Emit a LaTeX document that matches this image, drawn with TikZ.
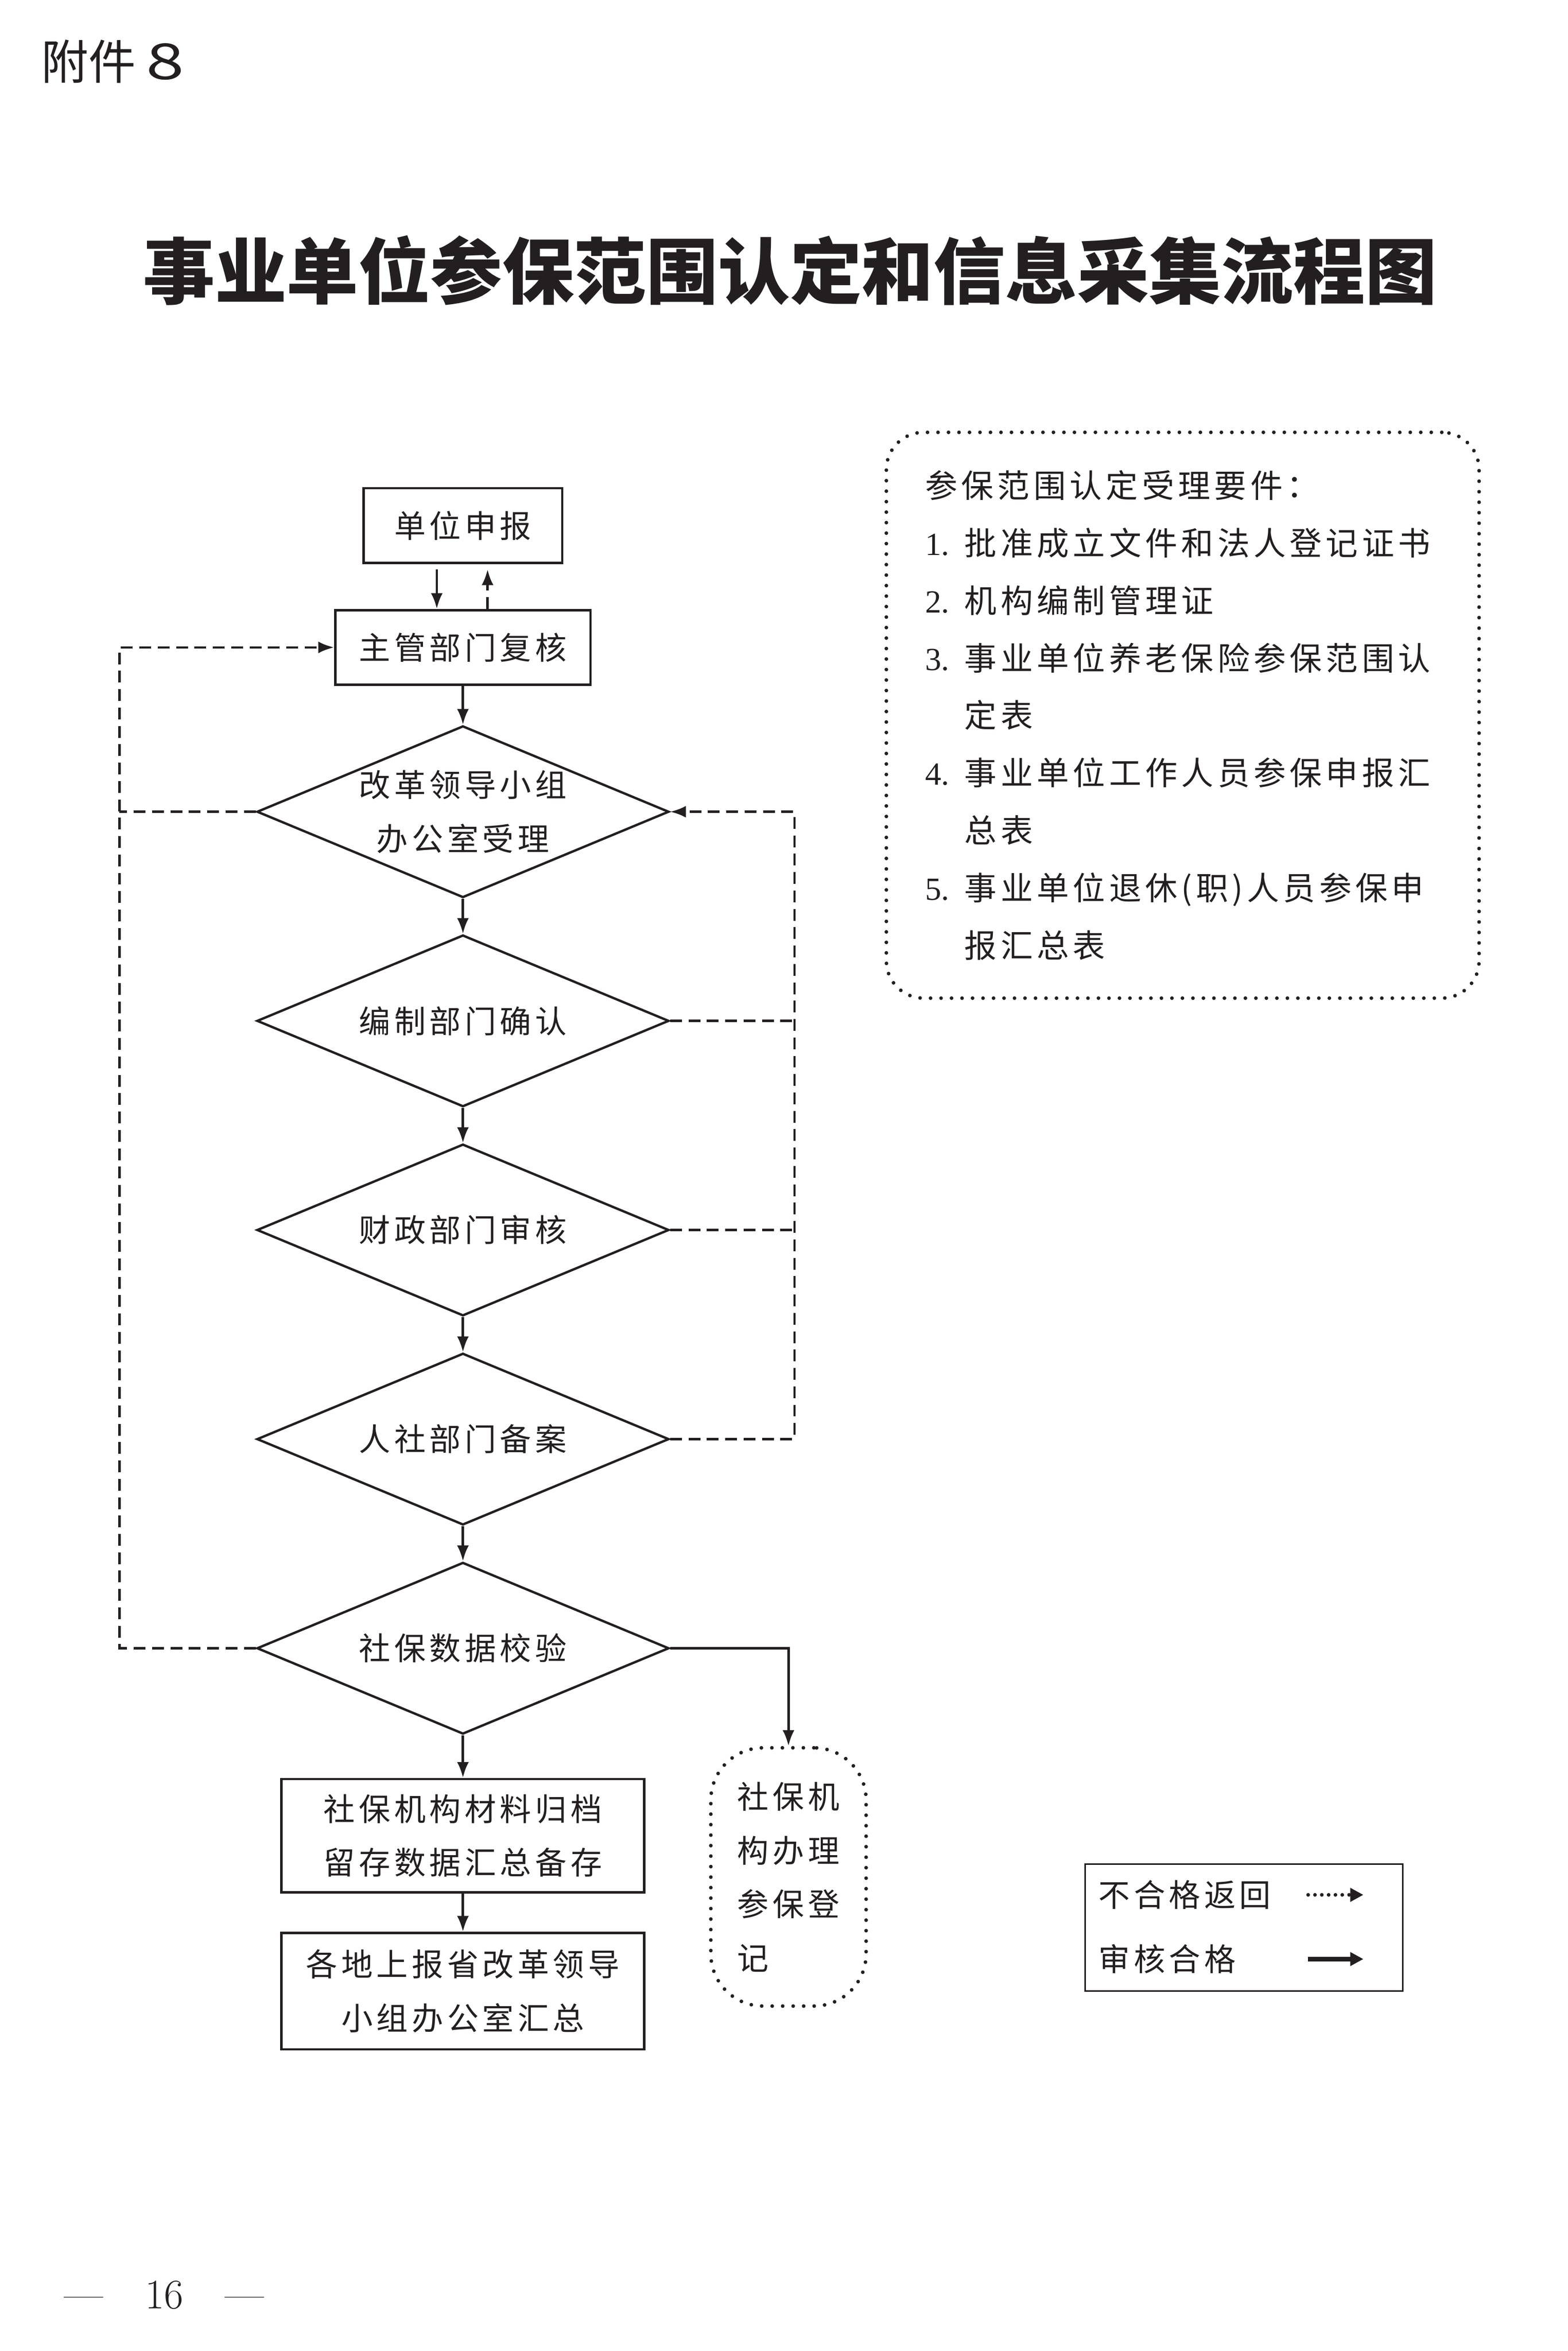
\documentclass[tikz,border=0pt]{standalone}
\usepackage{fontspec}
\usepackage{tikz}
\newfontfamily\cjk[LetterSpace=12]{Noto Sans CJK SC}
\newfontfamily\cjkhead{Noto Sans CJK SC}
\newfontfamily\numfont{Liberation Serif}
\definecolor{ink}{RGB}{35,31,32}
\usetikzlibrary{positioning,chains,shapes.geometric,arrows.meta}
\newcommand{\itm}[1]{\makebox[15pt][l]{\numfont #1.}}

\begin{document}
\begin{tikzpicture}[x=0.02cm,y=-0.02cm,
    ink,line width=0.9pt,
    every node/.style={font=\cjk\fontsize{12}{20.5}\selectfont,text=ink},
    boxnode/.style={draw,rectangle,inner sep=0pt,align=center},
    ifnode/.style={draw,diamond,shape aspect=2.4,inner sep=-2pt,minimum width=5.52cm,minimum height=2.3cm,align=center},
    dotbox/.style={draw,rectangle,line width=1.4pt,line cap=round,dash pattern=on 0pt off 4pt},
    ok/.style={-{Latex[length=6pt,width=4.5pt]}},
    back/.style={-{Latex[length=6pt,width=4.5pt]},dash pattern=on 4.5pt off 2.5pt}
    ]
    \useasboundingbox (0,0) rectangle (1050,1574.5);

    % heading
    \node[anchor=west,inner sep=0pt,font=\cjkhead\fontsize{18}{20}\selectfont] (fj) at (27,41) {附件\hspace{4pt}\scalebox{1.45}[1.05]{8}};
    \node[font=\cjkhead\bfseries\fontsize{27.4}{30}\selectfont] (title) at (529,181) {事业单位参保范围认定和信息采集流程图};

    % the main steps
    \begin{scope}[start chain=going below,node distance=0.47cm]
    \node[boxnode,on chain,minimum width=2.66cm,minimum height=1cm] (sb) at (310,352) {单位申报};
    \node[boxnode,node distance=0.6cm,on chain,minimum width=3.42cm,minimum height=1cm] (zg) {主管部门复核};
    \node[ifnode,node distance=0.52cm,on chain] (d1) {改革领导小组\\办公室受理};
    \node[ifnode,on chain] (d2) {编制部门确认};
    \node[ifnode,on chain] (d3) {财政部门审核};
    \node[ifnode,on chain] (d4) {人社部门备案};
    \node[ifnode,on chain] (d5) {社保数据校验};
    \node[boxnode,node distance=0.57cm,on chain,minimum width=4.86cm,minimum height=1.52cm] (gd) {社保机构材料归档\\留存数据汇总备存};
    \node[boxnode,node distance=0.51cm,on chain,minimum width=4.86cm,minimum height=1.56cm] (hz) {各地上报省改革领导\\小组办公室汇总};
    \end{scope}

    % side boxes
    \node[dotbox,rounded corners=0.7cm,minimum width=2.08cm,minimum height=3.46cm,align=left] (dj) at (528,1257) {社保机\\构办理\\参保登\\记};
    \node[dotbox,rounded corners=0.5cm,minimum width=7.94cm,minimum height=7.58cm,text width=6.9cm,align=left,
          font=\cjk\fontsize{12.3}{21.9}\selectfont] (req) at (792,479)
         {参保范围认定受理要件：\\
          \itm{1}批准成立文件和法人登记证书\\
          \itm{2}机构编制管理证\\
          \itm{3}事业单位养老保险参保范围认\\
          \hspace*{15pt}定表\\
          \itm{4}事业单位工作人员参保申报汇\\
          \hspace*{15pt}总表\\
          \itm{5}事业单位退休(职)人员参保申\\
          \hspace*{15pt}报汇总表};

    % the edges
    \draw[ok,shorten <=2pt] ([xshift=-0.35cm]sb.south) -- ([xshift=-0.35cm]sb.south |- zg.north);
    \draw[back,shorten >=2pt] ([xshift=0.33cm]sb.south |- zg.north) -- ([xshift=0.33cm]sb.south);
    \foreach \a/\b in {zg/d1,d1/d2,d2/d3,d3/d4,d4/d5,d5/gd,gd/hz}
        \draw[ok] (\a.south) -- (\b.north);
    \draw[ok] (d5.east) -| (dj.north);

    % the way back
    \coordinate (lft) at (80,0);
    \coordinate (rgt) at (532,0);
    \draw[back] (d5.west) -- (d5.west -| lft) -- (zg.west -| lft) -- (zg.west);
    \draw[back,-] (d1.west) -- (d1.west -| lft);
    \draw[back] (d4.east) -- (d4.east -| rgt) -- (d1.east -| rgt) -- (d1.east);
    \foreach \d in {d2,d3}
        \draw[back,-] (\d.east) -- (\d.east -| rgt);

    % legend
    \node[draw,rectangle,line width=0.6pt,minimum width=4.26cm,minimum height=1.7cm] (lg) at (833,1291) {};
    \node[anchor=west] (lgno) at (729,1269) {不合格返回};
    \node[anchor=west] (lgok) at (729,1312) {审核合格};
    \coordinate (no1) at (876,1269);
    \coordinate (no2) at (913,1269);
    \coordinate (ok1) at (876,1312);
    \coordinate (ok2) at (913,1312);
    \draw[line width=1.4pt,line cap=round,dash pattern=on 0pt off 2.6pt,-{Triangle[length=5pt,width=5pt]}] (no1) -- (no2);
    \draw[line width=1.8pt,-{Triangle[length=5pt,width=5pt]}] (ok1) -- (ok2);

    % page number
    \node[font=\fontsize{16}{18}\selectfont] (pg) at (110,1537) {—\quad16\quad—};
\end{tikzpicture}
\end{document}
